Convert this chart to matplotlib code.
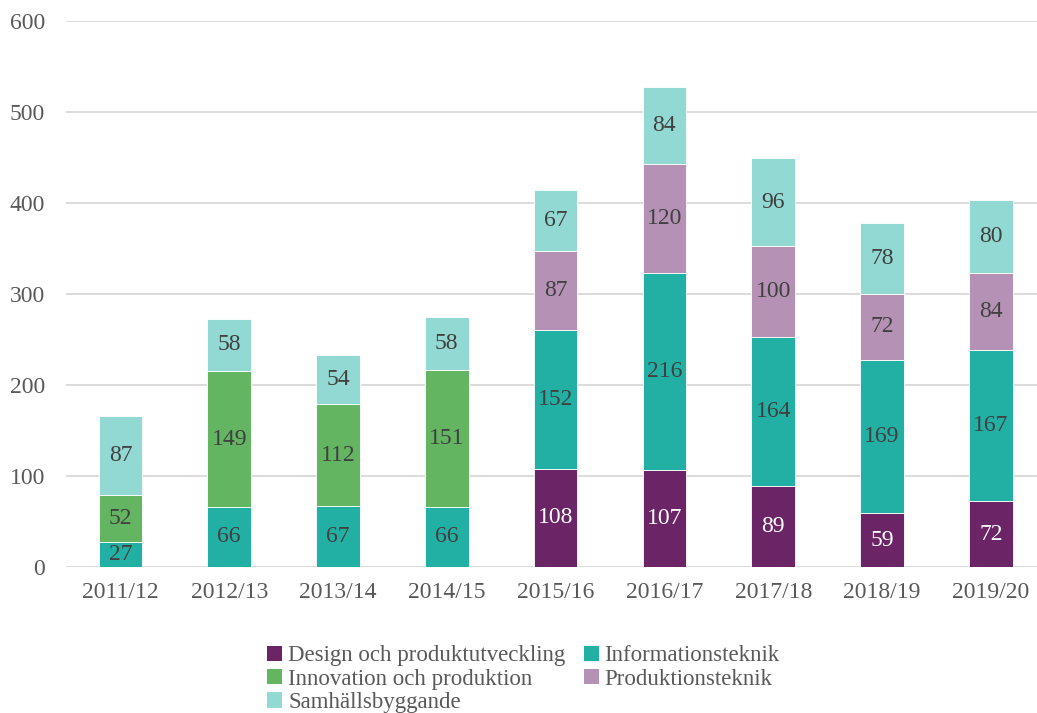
import matplotlib
matplotlib.use("Agg")
import matplotlib.pyplot as plt
from matplotlib.patches import Patch
import numpy as np

years = ["2011/12", "2012/13", "2013/14", "2014/15", "2015/16", "2016/17", "2017/18", "2018/19", "2019/20"]
design = [0, 0, 0, 0, 108, 107, 89, 59, 72]
info = [27, 66, 67, 66, 152, 216, 164, 169, 167]
innovation = [52, 149, 112, 151, 0, 0, 0, 0, 0]
produktion = [0, 0, 0, 0, 87, 120, 100, 72, 84]
samhall = [87, 58, 54, 58, 67, 84, 96, 78, 80]

series = [
    ("Design och produktutveckling", design, "#6B2567", "white"),
    ("Informationsteknik", info, "#22B0A5", "#404040"),
    ("Innovation och produktion", innovation, "#64B562", "#404040"),
    ("Produktionsteknik", produktion, "#B592B5", "#404040"),
    ("Samhällsbyggande", samhall, "#93D9D3", "#404040"),
]

plt.rcParams['font.family'] = ['Liberation Serif', 'DejaVu Serif']

fig = plt.figure(figsize=(10.37, 7.13), dpi=100)
ax = fig.add_axes([66/1037, (713-567)/713, 1 - 66/1037, (567-21)/713])

x = np.arange(len(years))
bottom = np.zeros(len(years))
handles = {}
for name, vals, col, tcol in series:
    vals = np.array(vals, dtype=float)
    ax.bar(x, vals, 0.40, bottom=bottom, color=col, edgecolor="white", linewidth=0.6, zorder=3)
    for xi, v, b in zip(x, vals, bottom):
        if v > 0:
            ax.text(xi, b + v / 2, f"{int(v)}", ha="center", va="center", fontsize=17, color=tcol, zorder=4)
    handles[name] = Patch(facecolor=col, label=name)
    bottom += vals

ax.set_ylim(0, 600)
ax.set_xlim(-0.5, (1037 - 66) / 108.8 - 0.5)
ax.set_yticks(range(0, 601, 100))
ax.set_xticks(x)
ax.set_xticklabels(years)
ax.yaxis.grid(True, color="#D9D9D9", linewidth=1.3, zorder=0)
ax.set_axisbelow(True)
for s in ax.spines.values():
    s.set_visible(False)
ax.tick_params(axis="both", length=0, labelsize=17, labelcolor="#595959")
ax.tick_params(axis="x", pad=11)
ax.tick_params(axis="y", pad=15)

order = ["Design och produktutveckling", "Innovation och produktion", "Samhällsbyggande",
         "Informationsteknik", "Produktionsteknik"]
leg = fig.legend([handles[n] for n in order], order, ncol=2, frameon=False,
                 loc="upper left", bbox_to_anchor=(256/1037, 1 - 634/713),
                 fontsize=16.5, handlelength=0.65, handleheight=0.65, handletextpad=0.25,
                 labelspacing=0.1, columnspacing=0.8, borderpad=0)
for t in leg.get_texts():
    t.set_color("#595959")

fig.savefig("out.png", dpi=100)
